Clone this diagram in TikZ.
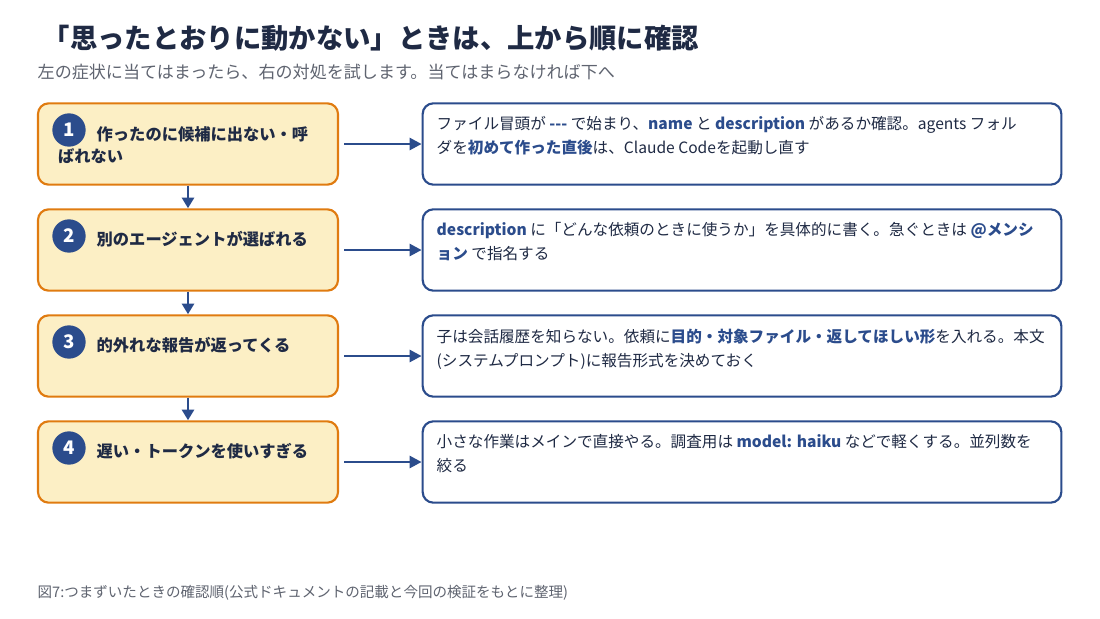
\documentclass[tikz,border=0pt]{standalone}
\usepackage{fontspec}
\setmainfont{Noto Sans CJK JP}
\usetikzlibrary{positioning,arrows.meta}
\definecolor{navy}{HTML}{2B4C8C}
\definecolor{ink}{HTML}{1F2A44}
\definecolor{org}{HTML}{E07B10}
\definecolor{cream}{HTML}{FCEFC5}
\definecolor{grey}{HTML}{5F6470}
\tikzset{
  issue/.style={draw=org,line width=1.6pt,fill=cream,rounded corners=8pt,minimum width=225pt,minimum height=61pt,inner sep=0pt},
  fix/.style={draw=navy,line width=1.6pt,fill=white,rounded corners=8pt,minimum width=479pt,minimum height=61pt,inner sep=0pt},
  num/.style={circle,fill=navy,text=white,minimum size=25pt,inner sep=0pt,font=\bfseries\fontsize{14}{14}\selectfont},
  issuetext/.style={anchor=west,align=left,text=ink,font=\bfseries\fontsize{12.2}{19}\selectfont},
  fixtext/.style={anchor=north west,align=left,text=ink,font=\fontsize{11.7}{18}\selectfont},
  link/.style={-{Triangle[length=9pt,width=9pt]},navy,line width=2pt}
}
\newcommand\hl[1]{\textcolor{navy}{\textbf{#1}}}
\begin{document}
\begin{tikzpicture}[x=0.75pt,y=-0.75pt]
\useasboundingbox[fill=white] (0,0) rectangle (1100,618);

% title
\node[anchor=west,text=ink,font=\bfseries\fontsize{20.5}{21}\selectfont] (title) at (38,38) {「思ったとおりに動かない」ときは、上から順に確認};
\node[anchor=west,text=grey,font=\fontsize{12.8}{13}\selectfont] (sub) at (33,72) {左の症状に当てはまったら、右の対処を試します。当てはまらなければ下へ};

% rows
\foreach \i/\y in {1/144,2/250,3/356,4/462}{
  \node[issue] (p\i) at (188,\y) {};
  \node[fix] (f\i) at (742,\y) {};
  \node[num] (n\i) at (69,\y-14) {\i};
  \draw[link] ([xshift=4pt]p\i.east) -- (f\i.west);
}
\foreach \a/\b in {1/2,2/3,3/4}
  \draw[-{Triangle[length=8pt,width=9pt]},navy,line width=2pt] (p\a.south) -- (p\b.north);

\node[issuetext] (t1) at (92,145) {作ったのに候補に出ない・呼\\[-2pt]\hspace*{-29pt}ばれない};
\node[issuetext] (t2) at (92,239) {別のエージェントが選ばれる};
\node[issuetext] (t3) at (92,345) {的外れな報告が返ってくる};
\node[issuetext] (t4) at (92,451) {遅い・トークンを使いすぎる};

\node[fixtext] (d1) at (432,112) {ファイル冒頭が \hl{-{}-{}-} で始まり、\hl{name} と \hl{description} があるか確認。agents フォル\\ダを\hl{初めて作った直後}は、Claude Codeを起動し直す};
\node[fixtext] (d2) at (432,218) {\hl{description} に「どんな依頼のときに使うか」を具体的に書く。急ぐときは \hl{@メンシ}\\\hl{ョン} で指名する};
\node[fixtext] (d3) at (432,324) {子は会話履歴を知らない。依頼に\hl{目的・対象ファイル・返してほしい形}を入れる。本文\\(システムプロンプト)に報告形式を決めておく};
\node[fixtext] (d4) at (432,430) {小さな作業はメインで直接やる。調査用は \hl{model: haiku} などで軽くする。並列数を\\絞る};

% caption
\node[anchor=west,text=grey,font=\fontsize{10.9}{11}\selectfont] (cap) at (33,593) {図7:つまずいたときの確認順(公式ドキュメントの記載と今回の検証をもとに整理)};
\end{tikzpicture}
\end{document}
